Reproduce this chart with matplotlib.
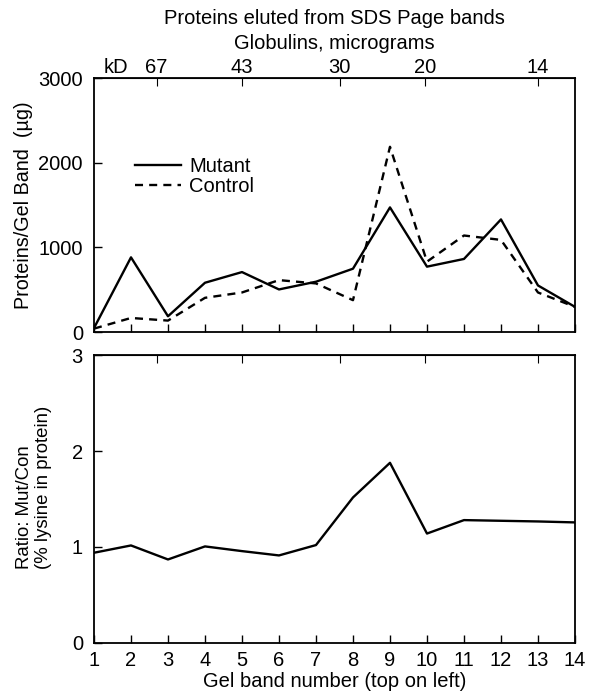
import numpy as np
import matplotlib.pyplot as plt

plt.rcParams['font.family'] = ['Liberation Sans', 'DejaVu Sans']

# gel band numbers and values
bands = np.arange(1, 15)
mutant = [47, 882, 186, 582, 708, 503, 594, 748, 1472, 772, 863, 1330, 550, 297]
control = [40, 166, 135, 404, 467, 613, 574, 376, 2188, 831, 1140, 1088, 467, 297]
ratio = [0.94, 1.016, 0.87, 1.006, 0.957, 0.912, 1.02, 1.516, 1.877, 1.14, 1.28, 1.273, 1.266, 1.256]

# molecular weight markers (kD) along the top
kd_pos = [2.69, 5.0, 7.64, 9.95, 13.0]
kd_labels = ['67', '43', '30', '20', '14']

fs = 14.5
fig = plt.figure(figsize=(6.01, 6.93), dpi=100)
ax1 = fig.add_axes([0.1564, 0.5209, 0.8003, 0.3665])
ax2 = fig.add_axes([0.1564, 0.0722, 0.8003, 0.4155])

#top panel
ax1.plot(bands, mutant, color='black', lw=1.7, label='Mutant')
ax1.plot(bands, control, color='black', lw=1.7, dashes=(3.4, 2.6), label='Control')
ax1.set_ylim(0, 3000)
ax1.set_yticks([0, 1000, 2000, 3000])
ax1.set_ylabel('Proteins/Gel Band  (µg)', fontsize=14.2)
ax1.yaxis.set_label_coords(-0.127, 0.5)
ax1.legend(loc='upper left', bbox_to_anchor=(0.068, 0.72), frameon=False,
           fontsize=fs, handlelength=2.3, handletextpad=0.4, borderaxespad=0,
           labelspacing=0.05)

#bottom panel
ax2.plot(bands, ratio, color='black', lw=1.7)
ax2.set_ylim(0, 3)
ax2.set_yticks([0, 1, 2, 3])
ax2.set_ylabel('Ratio: Mut/Con\n(% lysine in protein)', fontsize=13.4,
               linespacing=1.2, multialignment='left')
ax2.yaxis.set_label_coords(-0.087, 0.54)
ax2.set_xlabel('Gel band number (top on left)', fontsize=fs, labelpad=1)

for i, ax in enumerate([ax1, ax2]):
    ax.set_xlim(1, 14)
    ax.set_xticks(bands)
    ax.tick_params(direction='in', length=6, width=1, labelsize=fs)
    ax.tick_params(axis='y', pad=8)
    ax.tick_params(axis='x', pad=6)
    if i == 0:
        ax.tick_params(axis='x', labelbottom=False)
    for s in ax.spines.values():
        s.set_linewidth(1.3)
    top = ax.secondary_xaxis('top')
    top.set_xticks(kd_pos)
    top.tick_params(direction='in', length=6, width=0.8, labelsize=fs, pad=1)
    if i == 0:
        top.set_xticklabels(kd_labels)
    else:
        top.set_xticklabels([])

ax1.text(1.27, 1.005, 'kD', transform=ax1.get_xaxis_transform(),
         fontsize=fs, ha='left', va='bottom')

fig.text(0.5566, 0.973, 'Proteins eluted from SDS Page bands', fontsize=fs,
         ha='center', va='center')
fig.text(0.5566, 0.937, 'Globulins, micrograms', fontsize=fs,
         ha='center', va='center')

fig.savefig('out.png', dpi=100)
